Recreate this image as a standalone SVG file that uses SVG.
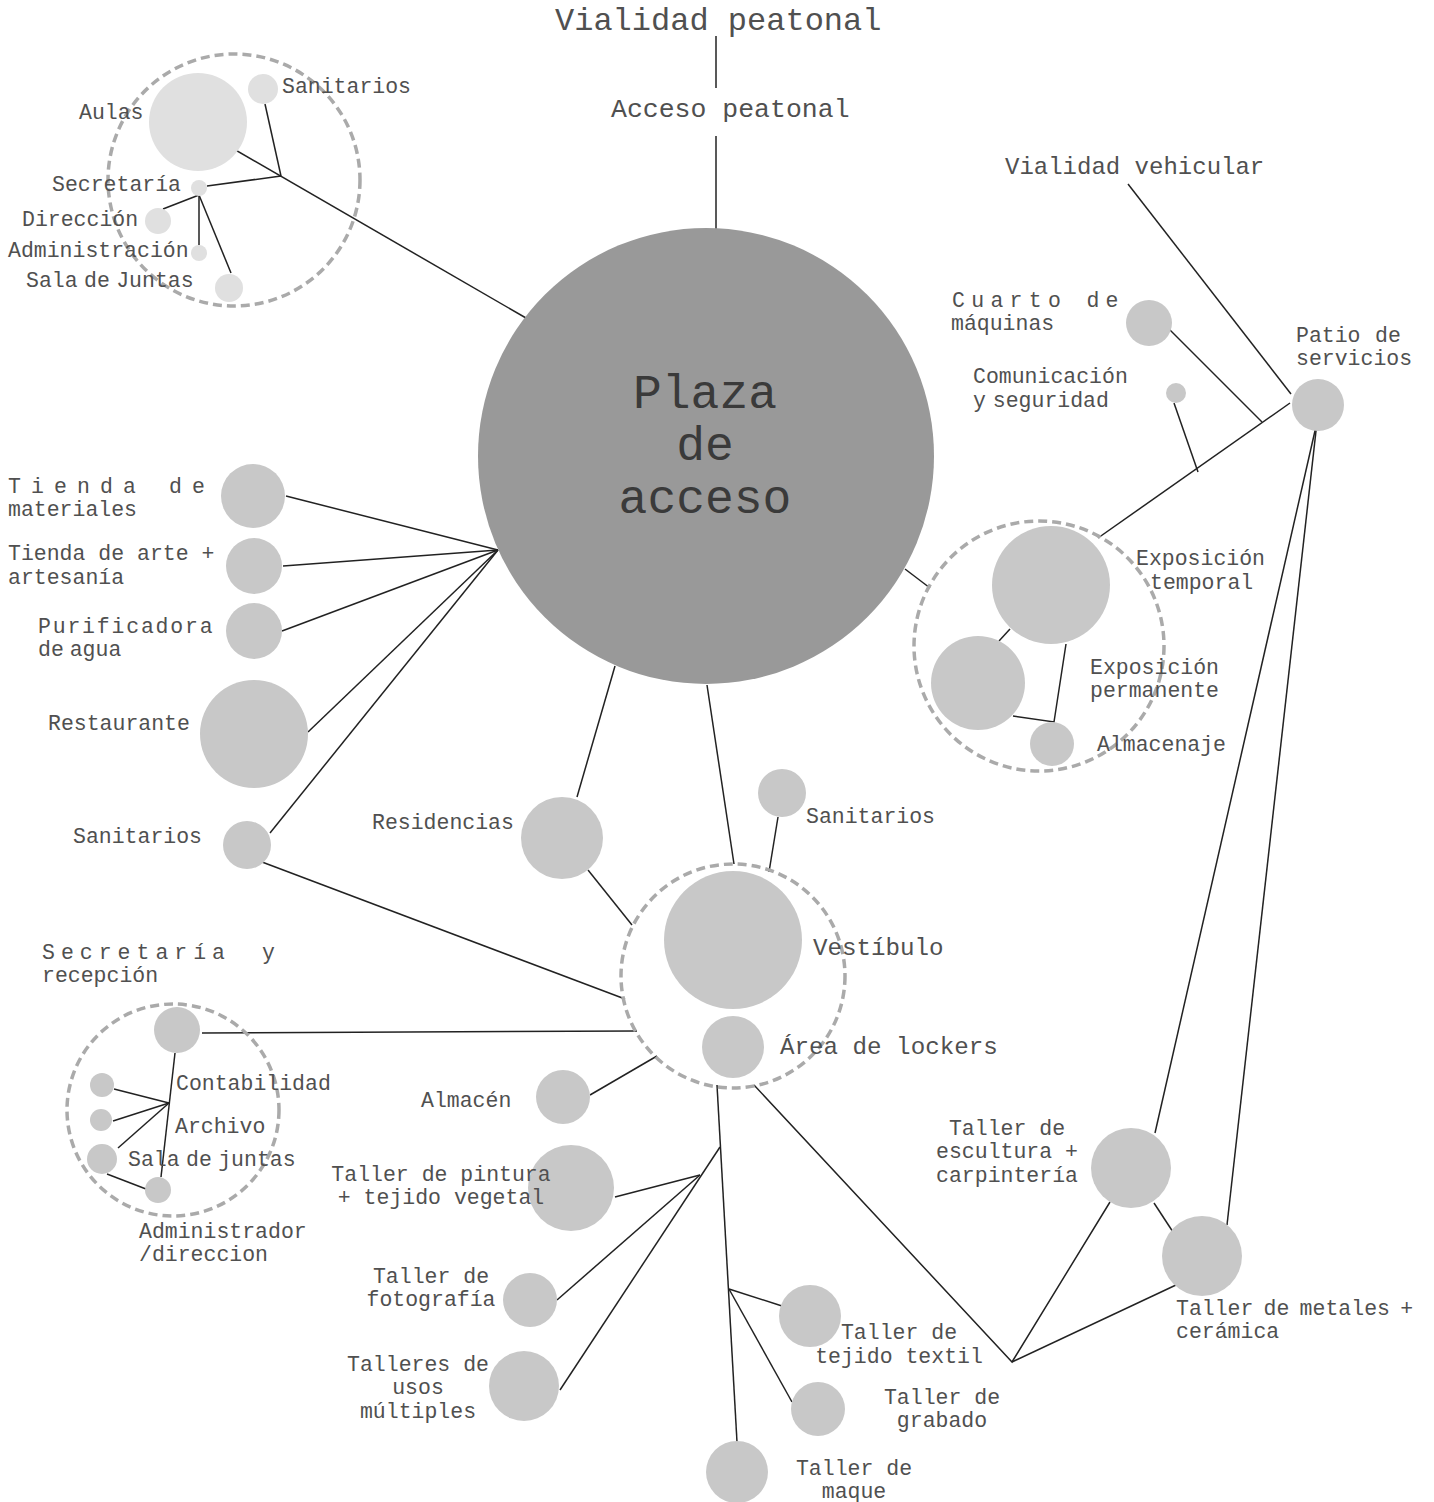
<svg xmlns="http://www.w3.org/2000/svg" width="1434" height="1502" viewBox="0 0 1434 1502">
<style>
text{font-family:"Liberation Mono","Courier New",monospace;font-size:21.5px;fill:#505050}
.m{text-anchor:middle}
.n{fill:#c8c8c8}
.l{fill:#e0e0e0}
.d{fill:none;stroke:#aaaaaa;stroke-width:3.5;stroke-dasharray:9 5}
#connectors line,#connectors polyline{stroke:#222;stroke-width:1.5;fill:none}
</style>
<rect width="1434" height="1502" fill="#ffffff"/>
<g id="connectors">
<line x1="716" y1="36" x2="716" y2="88"/>
<line x1="716" y1="136" x2="716" y2="229"/>
<line x1="220" y1="141" x2="526" y2="318"/>
<line x1="265" y1="104" x2="281" y2="176"/>
<line x1="207" y1="186" x2="281" y2="176"/>
<line x1="199" y1="195" x2="163" y2="209"/>
<line x1="199" y1="195" x2="199" y2="245"/>
<line x1="199" y1="195" x2="231" y2="273"/>
<line x1="1128" y1="184" x2="1291" y2="394"/>
<line x1="1290" y1="403" x2="1098" y2="538"/>
<line x1="1168" y1="328" x2="1262" y2="422"/>
<line x1="1174" y1="403" x2="1198" y2="472"/>
<line x1="1317" y1="422" x2="1155" y2="1133"/>
<line x1="1317" y1="422" x2="1227" y2="1225"/>
<line x1="905" y1="569" x2="930" y2="588"/>
<line x1="999" y1="641" x2="1010" y2="629"/>
<polyline points="1066,644 1054,722 1013,716"/>
<line x1="286" y1="496" x2="498" y2="550"/>
<line x1="283" y1="566" x2="498" y2="550"/>
<line x1="282" y1="631" x2="498" y2="550"/>
<line x1="308" y1="732" x2="498" y2="550"/>
<line x1="270" y1="833" x2="498" y2="550"/>
<line x1="262" y1="862" x2="625" y2="999"/>
<line x1="615" y1="666" x2="577" y2="797"/>
<line x1="588" y1="870" x2="632" y2="925"/>
<line x1="707" y1="685" x2="734" y2="864"/>
<line x1="778" y1="817" x2="769" y2="872"/>
<line x1="202" y1="1033" x2="637" y2="1031"/>
<line x1="114" y1="1089" x2="169" y2="1103"/>
<line x1="113" y1="1121" x2="169" y2="1103"/>
<line x1="118" y1="1148" x2="169" y2="1103"/>
<line x1="175" y1="1053" x2="161" y2="1177"/>
<line x1="107" y1="1174" x2="146" y2="1189"/>
<line x1="590" y1="1095" x2="657" y2="1056"/>
<line x1="717" y1="1085" x2="737" y2="1442"/>
<line x1="720" y1="1147" x2="560" y2="1390"/>
<line x1="700" y1="1175" x2="615" y2="1197"/>
<line x1="700" y1="1175" x2="557" y2="1300"/>
<line x1="729" y1="1289" x2="782" y2="1306"/>
<line x1="729" y1="1289" x2="792" y2="1402"/>
<polyline points="754,1085 1012,1362 1110,1202"/>
<line x1="1012" y1="1362" x2="1176" y2="1285"/>
<line x1="1154" y1="1203" x2="1173" y2="1232"/>
</g>
<g id="plaza"><circle cx="706" cy="456" r="228" fill="#999999"/>
<text class="m" x="705" y="408" style="font-size:48px;fill:#3a3a3a">Plaza</text>
<text class="m" x="705" y="460" style="font-size:48px;fill:#3a3a3a">de</text>
<text class="m" x="705" y="513" style="font-size:48px;fill:#3a3a3a">acceso</text></g>
<g id="vialidad-peatonal"><text x="555" y="30" style="font-size:32px">Vialidad peatonal</text></g>
<g id="acceso-peatonal"><text x="611" y="117" style="font-size:26.5px">Acceso peatonal</text></g>
<g id="vialidad-vehicular"><text x="1005" y="174" style="font-size:24px">Vialidad vehicular</text></g>
<g id="grupo-aulas"><circle class="d" cx="234" cy="180" r="126"/></g>
<g id="aulas"><circle class="l" cx="198" cy="122" r="49"/><text x="79" y="119">Aulas</text></g>
<g id="sanitarios-aulas"><circle class="l" cx="263" cy="89" r="15"/><text x="282" y="93">Sanitarios</text></g>
<g id="secretaria"><circle class="l" cx="199" cy="188" r="8"/><text x="52" y="191">Secretaría</text></g>
<g id="direccion"><circle class="l" cx="158" cy="221" r="13"/><text x="22" y="226">Dirección</text></g>
<g id="administracion"><circle class="l" cx="199" cy="253" r="8"/><text x="8" y="257">Administración</text></g>
<g id="sala-juntas"><circle class="l" cx="229" cy="288" r="14"/><text x="26" y="287" style="word-spacing:-6.5px">Sala de Juntas</text></g>
<g id="cuarto-maquinas"><circle class="n" cx="1149" cy="323" r="23"/><text x="952" y="307" style="letter-spacing:6.3px">Cuarto de</text><text x="951" y="330">máquinas</text></g>
<g id="comunicacion"><circle class="n" cx="1176" cy="393" r="10"/><text x="973" y="383">Comunicación</text><text x="973" y="407" style="word-spacing:-6px">y seguridad</text></g>
<g id="patio-servicios"><circle class="n" cx="1318" cy="405" r="26"/><text x="1296" y="342">Patio<tspan x="1375">de</tspan></text><text x="1296" y="365">servicios</text></g>
<g id="grupo-exposicion"><circle class="d" cx="1039" cy="646" r="125"/></g>
<g id="exposicion-temporal"><circle class="n" cx="1051" cy="585" r="59"/><text x="1136" y="565">Exposición</text><text x="1150" y="589">temporal</text></g>
<g id="exposicion-permanente"><circle class="n" cx="978" cy="683" r="47"/><text x="1090" y="674">Exposición</text><text x="1090" y="697">permanente</text></g>
<g id="almacenaje"><circle class="n" cx="1052" cy="744" r="22"/><text x="1097" y="751">Almacenaje</text></g>
<g id="tienda-materiales"><circle class="n" cx="253" cy="496" r="32"/><text x="8" y="493" style="letter-spacing:10.1px">Tienda de</text><text x="8" y="516">materiales</text></g>
<g id="tienda-arte"><circle class="n" cx="254" cy="566" r="28"/><text x="8" y="560">Tienda de arte +</text><text x="8" y="584">artesanía</text></g>
<g id="purificadora"><circle class="n" cx="254" cy="631" r="28"/><text x="38" y="633" style="letter-spacing:1.8px">Purificadora</text><text x="38" y="656" style="word-spacing:-7px">de agua</text></g>
<g id="restaurante"><circle class="n" cx="254" cy="734" r="54"/><text x="48" y="730">Restaurante</text></g>
<g id="sanitarios-plaza"><circle class="n" cx="247" cy="845" r="24"/><text x="73" y="843">Sanitarios</text></g>
<g id="residencias"><circle class="n" cx="562" cy="838" r="41"/><text x="372" y="829">Residencias</text></g>
<g id="sanitarios-vestibulo"><circle class="n" cx="782" cy="793" r="24"/><text x="806" y="823">Sanitarios</text></g>
<g id="grupo-vestibulo"><circle class="d" cx="733" cy="976" r="112"/></g>
<g id="vestibulo"><circle class="n" cx="733" cy="940" r="69"/><text x="813" y="955" style="font-size:24.2px">Vestíbulo</text></g>
<g id="lockers"><circle class="n" cx="733" cy="1047" r="31"/><text x="780" y="1054" style="font-size:24.2px">Área de lockers</text></g>
<g id="grupo-secretaria"><circle class="d" cx="173" cy="1110" r="106"/></g>
<g id="secretaria-recepcion"><circle class="n" cx="177" cy="1030" r="23"/><text x="42" y="959" style="letter-spacing:6px">Secretaría<tspan x="262">y</tspan></text><text x="42" y="982">recepción</text></g>
<g id="contabilidad"><circle class="n" cx="102" cy="1085" r="12"/><text x="176" y="1090">Contabilidad</text></g>
<g id="archivo"><circle class="n" cx="101" cy="1120" r="11"/><text x="175" y="1133">Archivo</text></g>
<g id="sala-de-juntas"><circle class="n" cx="102" cy="1159" r="15"/><text x="128" y="1166" style="word-spacing:-6.5px">Sala de juntas</text></g>
<g id="administrador"><circle class="n" cx="158" cy="1190" r="13"/><text x="139" y="1238">Administrador</text><text x="139" y="1261">/direccion</text></g>
<g id="almacen"><circle class="n" cx="563" cy="1097" r="27"/><text x="421" y="1107">Almacén</text></g>
<g id="taller-pintura"><circle class="n" cx="571" cy="1188" r="43"/><text class="m" x="441" y="1181">Taller de pintura</text><text class="m" x="441" y="1204">+ tejido vegetal</text></g>
<g id="taller-fotografia"><circle class="n" cx="530" cy="1300" r="27"/><text class="m" x="431" y="1283">Taller de</text><text class="m" x="431" y="1306">fotografía</text></g>
<g id="talleres-usos"><circle class="n" cx="524" cy="1386" r="35"/><text class="m" x="418" y="1371">Talleres de</text><text class="m" x="418" y="1394">usos</text><text class="m" x="418" y="1418">múltiples</text></g>
<g id="taller-textil"><circle class="n" cx="810" cy="1316" r="31"/><text class="m" x="899" y="1339">Taller de</text><text class="m" x="899" y="1363">tejido textil</text></g>
<g id="taller-grabado"><circle class="n" cx="818" cy="1409" r="27"/><text class="m" x="942" y="1404">Taller de</text><text class="m" x="942" y="1427">grabado</text></g>
<g id="taller-maque"><circle class="n" cx="737" cy="1472" r="31"/><text class="m" x="854" y="1475">Taller de</text><text class="m" x="854" y="1498">maque</text></g>
<g id="taller-escultura"><circle class="n" cx="1131" cy="1168" r="40"/><text class="m" x="1007" y="1135">Taller de</text><text class="m" x="1007" y="1158">escultura +</text><text class="m" x="1007" y="1182">carpintería</text></g>
<g id="taller-metales"><circle class="n" cx="1202" cy="1256" r="40"/><text x="1176" y="1315" style="word-spacing:-2.7px">Taller de metales +</text><text x="1176" y="1338">cerámica</text></g>
</svg>
